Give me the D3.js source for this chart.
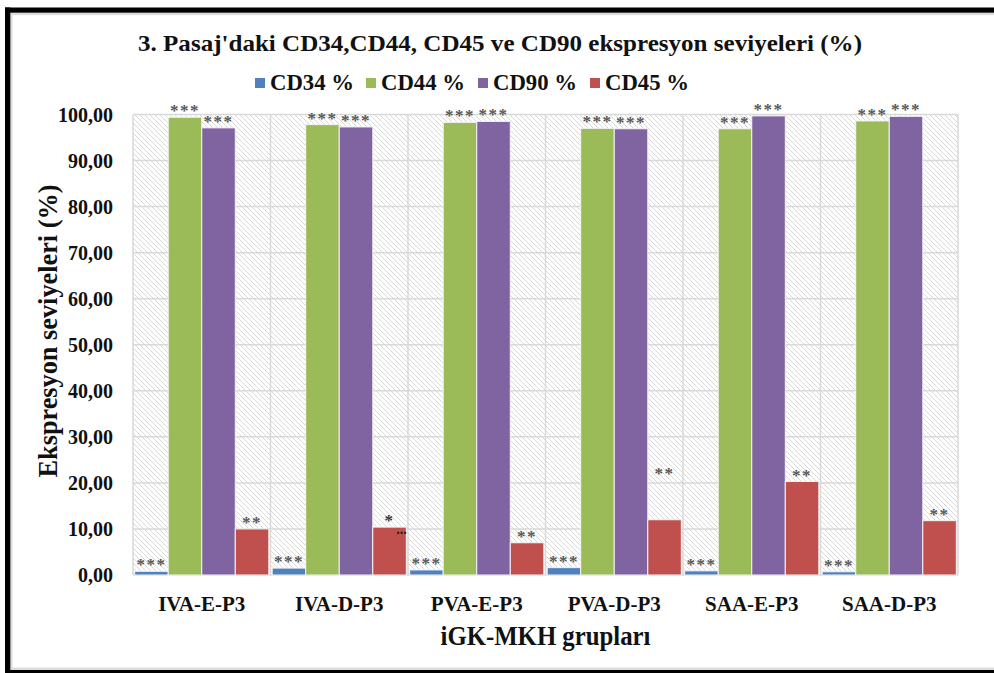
<!DOCTYPE html>
<html>
<head>
<meta charset="utf-8">
<script src="https://cdn.jsdelivr.net/npm/d3@7"></script>
<style>
  body { margin: 0; background: #fff; }
  svg { display: block; }
  text { font-family: "Liberation Serif", "Times New Roman", Times, serif; font-weight: bold; }
</style>
</head>
<body>
<div id="box"></div>
<script>
// chart data
var groups = ["IVA-E-P3", "IVA-D-P3", "PVA-E-P3", "PVA-D-P3", "SAA-E-P3", "SAA-D-P3"];
var seriesNames = ["CD34 %", "CD44 %", "CD90 %", "CD45 %"];
var cd34 = [0.8, 1.5, 1.1, 1.6, 0.9, 0.7];
var cd44 = [99.4, 97.8, 98.3, 97.0, 96.9, 98.6];
var cd90 = [97.1, 97.3, 98.5, 96.9, 99.7, 99.6];
var cd45 = [10.0, 10.4, 7.0, 12.0, 20.3, 11.8];
var cd34Marks = ["***", "***", "***", "***", "***", "***"];
var cd44Marks = ["***", "***", "***", "***", "***", "***"];
var cd90Marks = ["***", "***", "***", "***", "***", "***"];
var cd45Marks = ["**", "*", "**", "**", "**", "**"];
// level (%) where the CD45 mark sits, when it is not right on the bar
var cd45MarkLevel = [null, null, null, 22.6, null, null];
var yTicks = [0, 10, 20, 30, 40, 50, 60, 70, 80, 90, 100];
var colors = ["#4F81BD", "#9BBB59", "#8064A2", "#C0504D"];

var W = 994, H = 673;
var svg = d3.select("#box").append("svg")
    .attr("width", W)
    .attr("height", H);

// hatch background pattern
var defs = svg.append("defs");
var pat = defs.append("pattern")
    .attr("id", "hatch")
    .attr("patternUnits", "userSpaceOnUse")
    .attr("width", 5)
    .attr("height", 5);
pat.append("rect").attr("width", 5).attr("height", 5).attr("fill", "#fff");
pat.append("path")
    .attr("d", "M0,0 L5,5 M-1,4 L1,6 M4,-1 L6,1")
    .attr("stroke", "#d4d4d4")
    .attr("stroke-width", 0.9);

var plot = { left: 133, right: 958, top: 114.5, bottom: 575 };

var x0 = d3.scaleBand().domain(groups).range([plot.left, plot.right]).paddingInner(0).paddingOuter(0);
var x1 = d3.scaleBand().domain(seriesNames).range([0, x0.bandwidth()]).paddingInner(0).paddingOuter(0.05);
var y = d3.scaleLinear().domain([0, 100]).range([plot.bottom, plot.top]);

var rows = groups.map(function(g, i) {
    return {
        group: g,
        values: [
            { key: seriesNames[0], v: cd34[i], mark: cd34Marks[i], level: null },
            { key: seriesNames[1], v: cd44[i], mark: cd44Marks[i], level: null },
            { key: seriesNames[2], v: cd90[i], mark: cd90Marks[i], level: null },
            { key: seriesNames[3], v: cd45[i], mark: cd45Marks[i], level: cd45MarkLevel[i] }
        ]
    };
});

// plot background
svg.append("rect")
    .attr("x", plot.left)
    .attr("y", plot.top)
    .attr("width", plot.right - plot.left)
    .attr("height", plot.bottom - plot.top)
    .attr("fill", "url(#hatch)");

// grid lines
svg.append("g")
    .selectAll("line")
    .data(yTicks)
    .enter()
    .append("line")
    .attr("x1", plot.left)
    .attr("x2", plot.right)
    .attr("y1", function(d) { return y(d); })
    .attr("y2", function(d) { return y(d); })
    .attr("stroke", "#d9d9d9")
    .attr("stroke-width", 1.5);

var bounds = groups.map(function(g) { return x0(g); }).concat([plot.right]);
svg.append("g")
    .selectAll("line")
    .data(bounds)
    .enter()
    .append("line")
    .attr("x1", function(d) { return d; })
    .attr("x2", function(d) { return d; })
    .attr("y1", plot.top)
    .attr("y2", plot.bottom)
    .attr("stroke", "#d9d9d9")
    .attr("stroke-width", 1.5);

// bars
var grp = svg.append("g")
    .selectAll("g")
    .data(rows)
    .enter()
    .append("g")
    .attr("transform", function(d) { return "translate(" + x0(d.group) + ",0)"; });

grp.selectAll("rect")
    .data(function(d) { return d.values; })
    .enter()
    .append("rect")
    .attr("x", function(d) { return x1(d.key); })
    .attr("y", function(d) { return y(d.v); })
    .attr("width", x1.bandwidth())
    .attr("height", function(d) { return y(0) - y(d.v); })
    .attr("fill", function(d, i) { return colors[i]; })
    .attr("stroke", "#f4f4f4")
    .attr("stroke-width", 1);

// significance marks
grp.selectAll("text.mark")
    .data(function(d) { return d.values; })
    .enter()
    .append("text")
    .attr("class", "mark")
    .attr("x", function(d) { return x1(d.key) + x1.bandwidth() / 2; })
    .attr("y", function(d) {
        return (d.level != null ? y(d.level) + 8 : y(d.v) - 1);
    })
    .attr("text-anchor", "middle")
    .attr("font-size", 17)
    .attr("letter-spacing", 1.5)
    .attr("fill", function(d) { return d.mark === "*" ? "#3a3a3a" : "#595959"; })
    .text(function(d) { return d.mark; });

// the odd "..." next to the single star
grp.filter(function(d) { return d.values[3].mark === "*"; })
    .append("text")
    .attr("x", function(d) { return x1(seriesNames[3]) + x1.bandwidth() / 2 + 12; })
    .attr("y", function(d) { return y(d.values[3].v) + 7; })
    .attr("text-anchor", "middle")
    .attr("font-size", 14)
    .attr("fill", "#222")
    .text("...");

// y axis labels
svg.append("g")
    .selectAll("text")
    .data(yTicks)
    .enter()
    .append("text")
    .attr("x", 113)
    .attr("y", function(d) { return y(d) + 7; })
    .attr("text-anchor", "end")
    .attr("font-size", 20)
    .attr("fill", "#111")
    .text(function(d) { return d3.format(".2f")(d).replace(".", ","); });

// x axis labels
svg.append("g")
    .selectAll("text")
    .data(groups)
    .enter()
    .append("text")
    .attr("x", function(d) { return x0(d) + x0.bandwidth() / 2; })
    .attr("y", 611)
    .attr("text-anchor", "middle")
    .attr("font-size", 21)
    .attr("fill", "#111")
    .text(function(d) { return d; });

// axis titles
svg.append("text")
    .attr("x", (plot.left + plot.right) / 2)
    .attr("y", 645)
    .attr("text-anchor", "middle")
    .attr("font-size", 28)
    .attr("textLength", 210)
    .attr("lengthAdjust", "spacingAndGlyphs")
    .attr("fill", "#111")
    .text("iGK-MKH grupları");

svg.append("text")
    .attr("transform", "translate(57,331) rotate(-90)")
    .attr("text-anchor", "middle")
    .attr("font-size", 28)
    .attr("textLength", 293)
    .attr("lengthAdjust", "spacingAndGlyphs")
    .attr("fill", "#111")
    .text("Ekspresyon seviyeleri (%)");

// title
svg.append("text")
    .attr("x", 500)
    .attr("y", 51)
    .attr("text-anchor", "middle")
    .attr("font-size", 23)
    .attr("textLength", 724)
    .attr("lengthAdjust", "spacingAndGlyphs")
    .attr("fill", "#111")
    .text("3. Pasaj'daki CD34,CD44, CD45 ve CD90 ekspresyon seviyeleri (%)");

// legend
var legendX = [255, 366, 478, 590];
var legend = svg.append("g")
    .selectAll("g")
    .data(seriesNames)
    .enter()
    .append("g")
    .attr("transform", function(d, i) { return "translate(" + legendX[i] + ",78)"; });

legend.append("rect")
    .attr("width", 10)
    .attr("height", 10)
    .attr("fill", function(d, i) { return colors[i]; });

legend.append("text")
    .attr("x", 15)
    .attr("y", 12)
    .attr("font-size", 23)
    .attr("textLength", 84)
    .attr("lengthAdjust", "spacingAndGlyphs")
    .attr("fill", "#111")
    .text(function(d) { return d; });

// frame around the picture
svg.append("rect").attr("x", 10).attr("y", 12.7).attr("width", W - 10).attr("height", 2.5).attr("fill", "#dcdcdc");
svg.append("rect").attr("x", 10).attr("y", 12.7).attr("width", 2.5).attr("height", H - 12).attr("fill", "#dcdcdc");
svg.append("rect").attr("x", 10).attr("y", 667.5).attr("width", W - 10).attr("height", 2.5).attr("fill", "#dcdcdc");
svg.append("rect").attr("x", 5).attr("y", 7.5).attr("width", W - 5).attr("height", 5.2).attr("fill", "#000");
svg.append("rect").attr("x", 5).attr("y", 7.5).attr("width", 5.3).attr("height", H - 7.5).attr("fill", "#000");
svg.append("rect").attr("x", 5).attr("y", 670).attr("width", W - 5).attr("height", 3).attr("fill", "#000");
</script>
</body>
</html>
